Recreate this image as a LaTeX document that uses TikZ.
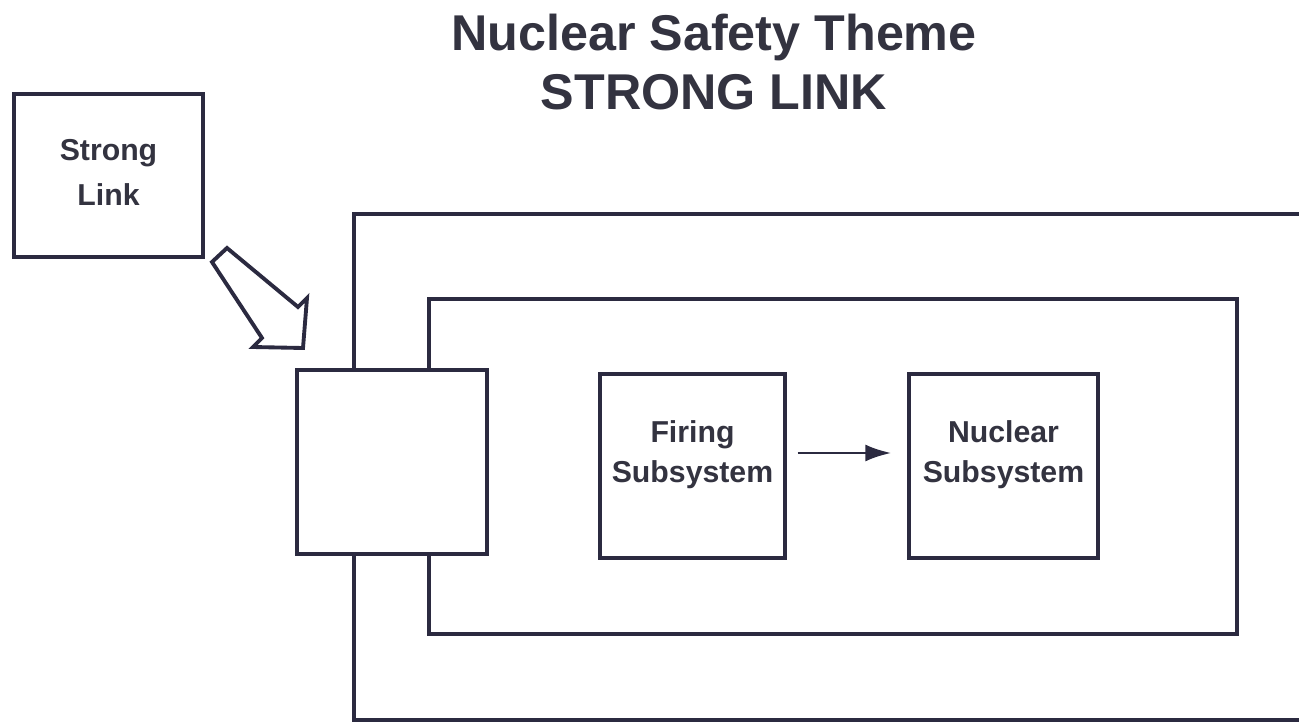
\documentclass[tikz,border=0pt]{standalone}
\usepackage{fontspec}
\setmainfont{Liberation Sans}
\usetikzlibrary{arrows.meta}
\definecolor{InkLine}{HTML}{2B2A40}
\definecolor{InkText}{HTML}{333340}

\begin{document}
\begin{tikzpicture}[x=0.01cm, y=-0.01cm,
    box/.style={draw=InkLine, line width=0.9pt, fill=white, inner sep=0pt},
    lbl/.style={text=InkText, font=\fontsize{8.6}{11.4}\selectfont\bfseries, align=center}]
    \useasboundingbox (0,0) rectangle (1299,724);
    % title
    \node[text=InkText, font=\fontsize{14.3}{16.8}\selectfont\bfseries, align=center] (title) at (714,62)
      {Nuclear Safety Theme\\STRONG LINK};
    % outer and inner frames
    \draw[InkLine, line width=0.9pt] (1299,214) -- (354,214) -- (354,720) -- (1299,720);
    \draw[InkLine, line width=0.9pt] (429,299) rectangle (1237,634);
    % boxes
    \node[box, minimum width=1.89cm, minimum height=1.63cm] (strong) at (108.5,175.5) {};
    \node[lbl, font=\fontsize{8.6}{12.6}\selectfont\bfseries] (strongtxt) at ([yshift=0.03cm]strong.center) {Strong\\Link};
    \node[box, minimum width=1.90cm, minimum height=1.84cm] (link) at (392,462) {};
    \node[box, minimum width=1.85cm, minimum height=1.84cm] (firing) at (692.5,466) {};
    \node[lbl] (firingtxt) at ([yshift=0.11cm]firing.center) {Firing\\Subsystem};
    \node[box, minimum width=1.89cm, minimum height=1.84cm] (nuclear) at (1003.5,466) {};
    \node[lbl] (nucleartxt) at ([yshift=0.11cm]nuclear.center) {Nuclear\\Subsystem};
    % connector
    \draw[InkLine, line width=0.8pt, -{Latex[length=2.6mm,width=1.7mm]}]
      ([xshift=0.11cm,yshift=0.13cm]firing.east) -- ([xshift=-0.16cm,yshift=0.13cm]nuclear.west);
    % hollow block arrow
    \draw[InkLine, line width=1.1pt, line join=miter, fill=white]
      (227,248) -- (298,307) -- (307,298) -- (303,348) -- (253,347) -- (262,338) -- (212,262) -- cycle;
\end{tikzpicture}
\end{document}
